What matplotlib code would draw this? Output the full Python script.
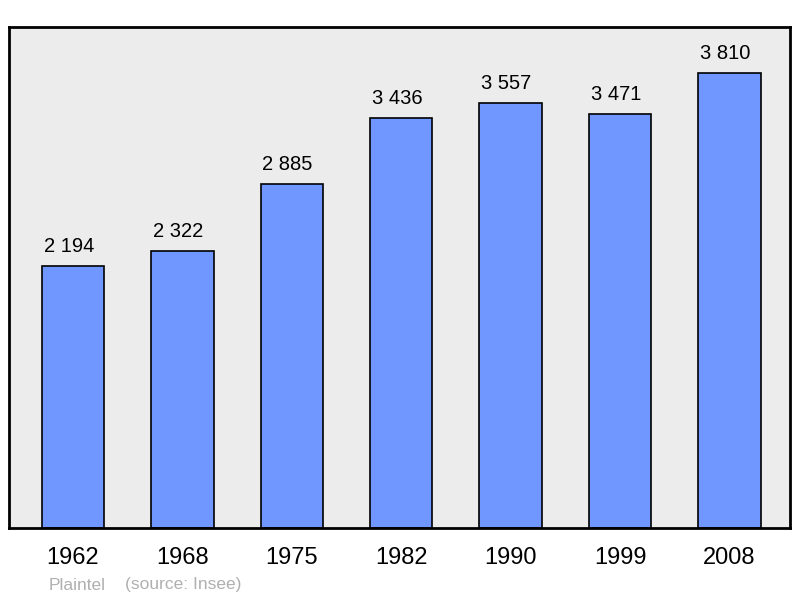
import matplotlib.pyplot as plt

plt.rcParams['font.family'] = ['Liberation Sans', 'DejaVu Sans']

# data
years = ['1962', '1968', '1975', '1982', '1990', '1999', '2008']
population = [2194, 2322, 2885, 3436, 3557, 3471, 3810]
value_labels = ['2 194', '2 322', '2 885', '3 436', '3 557', '3 471', '3 810']

fig = plt.figure(figsize=(8, 5.98), dpi=100)
ax = fig.add_axes([9 / 800, 70 / 598, 781 / 800, 501 / 598])
ax.set_facecolor('#ececec')

pos = range(len(years))
bars = ax.bar(pos, population, width=0.57, color='#7097ff', edgecolor='black', linewidth=1.2)

# waarden boven de balken
for b, lab in zip(bars, value_labels):
    ax.annotate(lab, (b.get_x() + b.get_width() / 2, b.get_height()),
                xytext=(-3, 10), textcoords='offset points',
                ha='center', va='baseline', fontsize=14.5)

ax.set_xlim(-0.585, 6.553)
ax.set_ylim(0, 4196)
ax.set_xticks(list(pos))
ax.set_xticklabels(years, fontsize=17)
ax.tick_params(axis='x', length=0, pad=13.5)
ax.set_yticks([])
for s in ax.spines.values():
    s.set_linewidth(2)

fig.text(49 / 800, 1 - 585 / 598, 'Plaintel', color='#b0b0b0', fontsize=12.5, va='center')
fig.text(125 / 800, 1 - 585 / 598, '(source: Insee)', color='#b0b0b0', fontsize=12.5, va='center')

plt.savefig('out.png', dpi=100)
